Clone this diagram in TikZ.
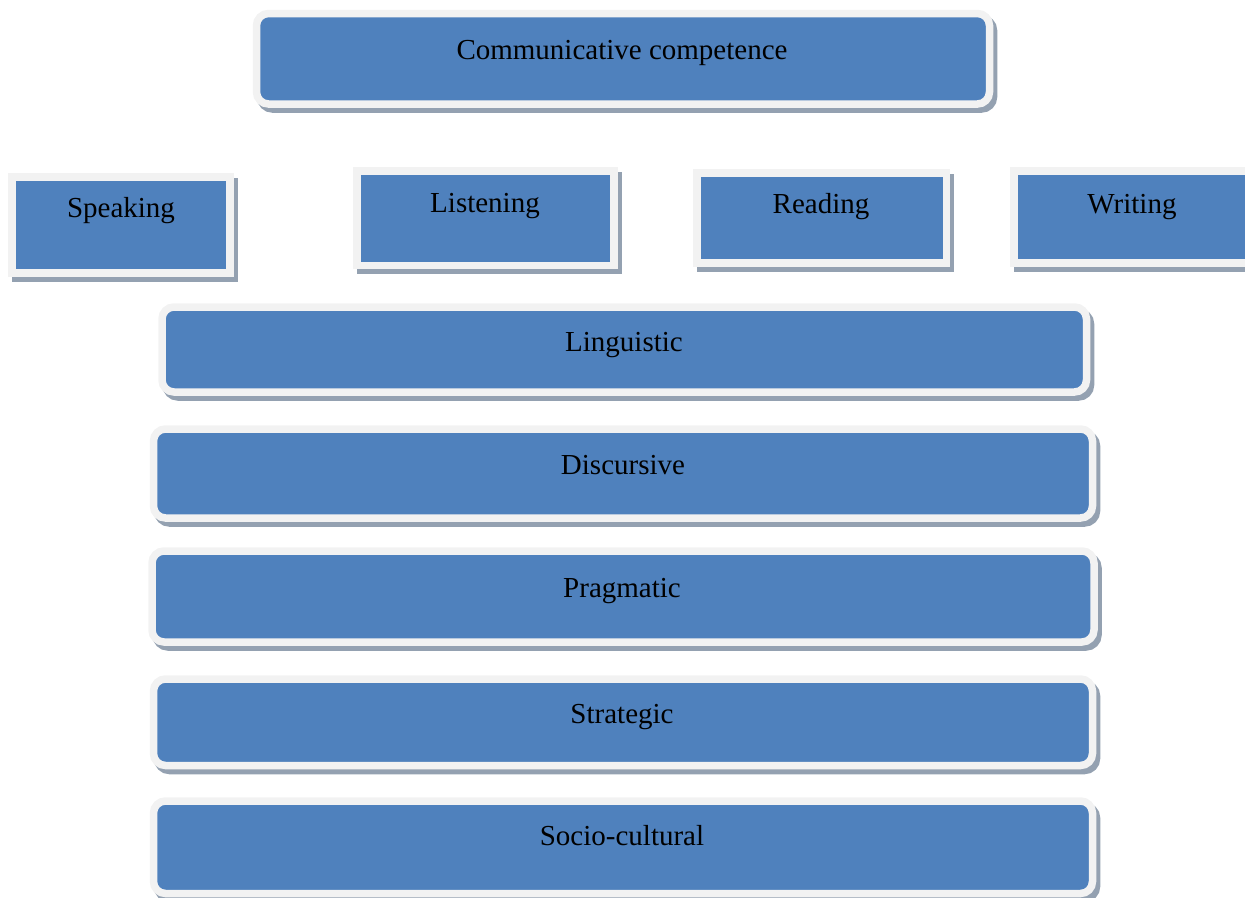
\documentclass[tikz,border=0pt]{standalone}
\usepackage{fontspec}
\setmainfont{Liberation Serif}
\usetikzlibrary{shadows}
\definecolor{bluec}{HTML}{4F81BD}
\definecolor{bordc}{HTML}{F2F2F2}
\definecolor{shadc}{HTML}{94A1B1}
\tikzset{
  basebox/.style={draw=bordc, line width=7.5pt, fill=bluec, inner sep=0pt,
    drop shadow={shadow xshift=4pt, shadow yshift=-5pt, fill=shadc, draw=shadc, line width=7.5pt, opacity=1}},
  roundbox/.style={basebox, rounded corners=12pt},
  squarebox/.style={basebox},
  txt/.style={anchor=base, font=\fontsize{29}{35}\selectfont, text=black, inner sep=0pt}
}
\begin{document}
\begin{tikzpicture}[x=1pt,y=-1pt]
\useasboundingbox (0,0) rectangle (1245,897);
\clip (0,0) rectangle (1245,897);
% boxes
\node[roundbox, minimum width=733pt, minimum height=90.5pt] (comm) at (623,58.75) {};
\node[squarebox, minimum width=218pt, minimum height=96pt] (speak) at (121,225) {};
\node[squarebox, minimum width=257pt, minimum height=94.5pt] (listen) at (485.5,218.25) {};
\node[squarebox, minimum width=249.5pt, minimum height=90pt] (read) at (821.75,218) {};
\node[squarebox, minimum width=256pt, minimum height=92pt] (write) at (1142,217) {};
\node[roundbox, minimum width=924.5pt, minimum height=85pt] (ling) at (624.25,349.5) {};
\node[roundbox, minimum width=939pt, minimum height=89pt] (disc) at (623,473.5) {};
\node[roundbox, minimum width=942pt, minimum height=91pt] (prag) at (623,596.5) {};
\node[roundbox, minimum width=939pt, minimum height=86.5pt] (strat) at (623,722.25) {};
\node[roundbox, minimum width=939pt, minimum height=92.5pt] (socio) at (623,847.25) {};
% texts
\node[txt] (tcomm) at (622,59) {Communicative competence};
\node[txt] (tspeak) at (121,217) {Speaking};
\node[txt] (tlisten) at (485,212) {Listening};
\node[txt] (tread) at (821,213) {Reading};
\node[txt] (twrite) at (1132,213) {Writing};
\node[txt] (tling) at (624,351) {Linguistic};
\node[txt] (tdisc) at (623,474) {Discursive};
\node[txt] (tprag) at (622,597) {Pragmatic};
\node[txt] (tstrat) at (622,723) {Strategic};
\node[txt] (tsocio) at (622,845) {Socio-cultural};
\end{tikzpicture}
\end{document}
